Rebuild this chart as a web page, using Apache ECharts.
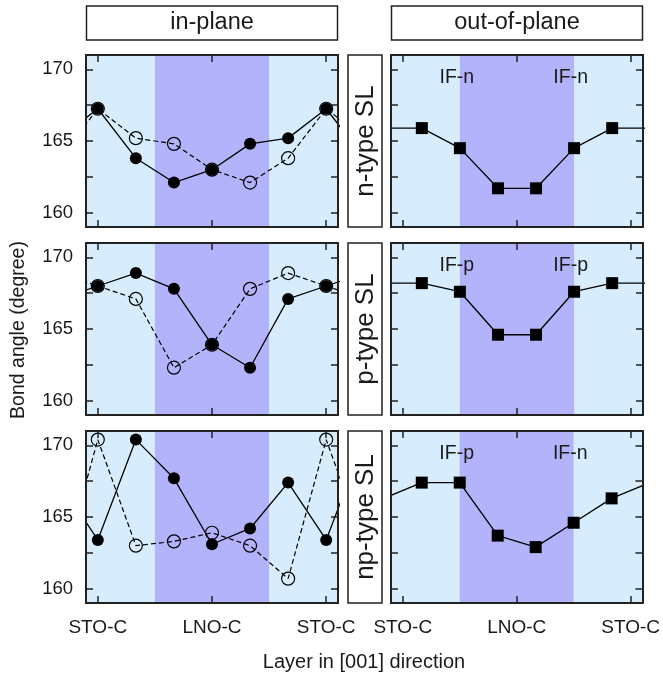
<!DOCTYPE html>
<html>
<head>
<meta charset="utf-8">
<script src="https://cdn.jsdelivr.net/npm/echarts@6/dist/echarts.min.js"></script>
<style>
html,body{margin:0;padding:0;background:#fff;}
#chart{width:663px;height:674px;}
</style>
</head>
<body>
<div id="chart"></div>
<script>
// ---- data ----
const xTickPos = [0, 3, 6];
const xTickLabels = ['STO-C', 'LNO-C', 'STO-C'];
const layerX = [0, 1, 2, 3, 4, 5, 6];
const octaX = [0.5, 1.5, 2.5, 3.5, 4.5, 5.5];
const lnoRegion = [1.5, 4.5];
const yTicks = [160, 162.5, 165, 167.5, 170];
const yLabels = [160, 165, 170];

const nFilled  = [167.25, 163.8, 162.1, 163.0, 164.8, 165.2, 167.25];
const nOpen    = [167.25, 165.2, 164.8, 163.0, 162.1, 163.8, 167.25];
const pFilled  = [168.0, 168.9, 167.8, 163.9, 162.3, 167.1, 168.0];
const pOpen    = [168.0, 167.1, 162.3, 163.9, 167.8, 168.9, 168.0];
const npFilled = [163.4, 170.4, 167.7, 163.1, 164.2, 167.4, 163.4];
const npOpen   = [170.4, 163.0, 163.3, 163.9, 163.0, 160.7, 170.4];

const nOut  = [165.9, 164.5, 161.7, 161.7, 164.5, 165.9];
const pOut  = [168.2, 167.6, 164.6, 164.6, 167.6, 168.2];
const npOut = [167.4, 167.4, 163.7, 162.9, 164.6, 166.3];

const ifLabels = [['IF-n', 'IF-n'], ['IF-p', 'IF-p'], ['IF-p', 'IF-n']];
const ifLabelX = [1.42, 4.41];
const ifLabelY = 169.45;
const rowNames = ['n-type SL', 'p-type SL', 'np-type SL'];
const colNames = ['in-plane', 'out-of-plane'];
const yAxisName = 'Bond angle (degree)';
const xAxisName = 'Layer in [001] direction';

const inPlane = [[nFilled, nOpen], [pFilled, pOpen], [npFilled, npOpen]];
const outPlane = [nOut, pOut, npOut];

// ---- layout ----
const FONT = '"Liberation Sans", Arial, sans-serif';
const TXT = '#1a1a1a';
const gridTops = [55, 243, 431];
const gridH = 172;
const colLefts = [86, 391];
const gridW = 252;
const XMIN = -0.31, XMAX = 6.31, YMIN = 159, YMAX = 171;
const LIGHT = '#d7edfd', PURPLE = '#b3b3fb';

// periodic continuation of the superlattice beyond the window
function layerData(vals) {
  const d = [[layerX[0] - 1, vals[5]]];
  vals.forEach((v, i) => d.push([layerX[i], v]));
  d.push([layerX[6] + 1, vals[1]]);
  return d;
}
function octaData(vals) {
  const d = [[octaX[0] - 1, vals[5]]];
  vals.forEach((v, i) => d.push([octaX[i], v]));
  d.push([octaX[5] + 1, vals[0]]);
  return d;
}

const grid = [], xAxis = [], yAxis = [], series = [];
const axisLineStyle = { color: '#222', width: 2 };
const tickStyle = { color: '#222', width: 1.5 };

for (let r = 0; r < 3; r++) {
  for (let c = 0; c < 2; c++) {
    const g = grid.length;
    grid.push({ left: colLefts[c], top: gridTops[r], width: gridW, height: gridH,
      show: true, backgroundColor: LIGHT, borderWidth: 0 });
    const bottomRow = r === 2;
    xAxis.push({ type: 'value', gridIndex: g, min: XMIN, max: XMAX, position: 'bottom', z: 10,
      axisLine: { show: true, onZero: false, lineStyle: axisLineStyle },
      axisTick: { show: true, inside: true, length: 7, customValues: xTickPos, lineStyle: tickStyle },
      axisLabel: { show: bottomRow, customValues: xTickPos, margin: 15, fontFamily: FONT, fontSize: 19, color: TXT,
        formatter: v => xTickLabels[xTickPos.indexOf(v)] },
      splitLine: { show: false } });
    xAxis.push({ type: 'value', gridIndex: g, min: XMIN, max: XMAX, position: 'top', z: 10,
      axisLine: { show: true, onZero: false, lineStyle: axisLineStyle },
      axisTick: { show: true, inside: true, length: 7, customValues: xTickPos, lineStyle: tickStyle },
      axisLabel: { show: false }, splitLine: { show: false } });
    yAxis.push({ type: 'value', gridIndex: g, min: YMIN, max: YMAX, position: 'left', z: 10,
      axisLine: { show: true, onZero: false, lineStyle: axisLineStyle },
      axisTick: { show: true, inside: true, length: 7, customValues: yTicks, lineStyle: tickStyle },
      axisLabel: { show: c === 0, customValues: yLabels, margin: 13, fontFamily: FONT, fontSize: 18.5, color: TXT },
      splitLine: { show: false } });
    yAxis.push({ type: 'value', gridIndex: g, min: YMIN, max: YMAX, position: 'right', z: 10,
      axisLine: { show: true, onZero: false, lineStyle: axisLineStyle },
      axisTick: { show: true, inside: true, length: 7, customValues: yTicks, lineStyle: tickStyle },
      axisLabel: { show: false }, splitLine: { show: false } });

    const xi = 2 * g, yi = 2 * g;
    // LNO region shading
    series.push({ type: 'line', xAxisIndex: xi, yAxisIndex: yi, data: [], z: 1, silent: true,
      markArea: { silent: true, itemStyle: { color: PURPLE, opacity: 1 },
        data: [[{ xAxis: lnoRegion[0] }, { xAxis: lnoRegion[1] }]] } });

    if (c === 0) {
      const [filled, open] = inPlane[r];
      series.push({ type: 'line', xAxisIndex: xi, yAxisIndex: yi, data: layerData(open), z: 3,
        clip: true, silent: true, symbol: 'circle', symbolSize: 13, showAllSymbol: true,
        lineStyle: { color: '#000', width: 1.2, type: [5, 3] },
        itemStyle: { color: 'rgba(0,0,0,0)', borderColor: '#000', borderWidth: 1.2 } });
      series.push({ type: 'line', xAxisIndex: xi, yAxisIndex: yi, data: layerData(filled), z: 4,
        clip: true, silent: true, symbol: 'circle', symbolSize: 12, showAllSymbol: true,
        lineStyle: { color: '#000', width: 1.3 },
        itemStyle: { color: '#000' } });
    } else {
      series.push({ type: 'line', xAxisIndex: xi, yAxisIndex: yi, data: octaData(outPlane[r]), z: 4,
        clip: true, silent: true, symbol: 'rect', symbolSize: 12, showAllSymbol: true,
        lineStyle: { color: '#000', width: 1.3 },
        itemStyle: { color: '#000' },
        markPoint: { silent: true, symbol: 'circle', symbolSize: 0,
          label: { show: true, position: 'inside', formatter: p => p.name, fontFamily: FONT, fontSize: 19.5, color: TXT },
          data: ifLabels[r].map((t, k) => ({ name: t, coord: [ifLabelX[k], ifLabelY] })) } });
    }
  }
}

const graphic = [];
colNames.forEach((t, c) => {
  graphic.push({ type: 'rect', shape: { x: colLefts[c] + 0.5, y: 6, width: gridW - 1, height: 34 },
    style: { fill: '#fff', stroke: '#222', lineWidth: 1.5 } });
  graphic.push({ type: 'text', x: colLefts[c] + gridW / 2, y: 23,
    style: { text: t, font: '23.5px ' + FONT, fill: TXT, align: 'center', verticalAlign: 'middle' } });
});
rowNames.forEach((t, r) => {
  graphic.push({ type: 'rect', shape: { x: 348, y: gridTops[r], width: 34, height: gridH },
    style: { fill: '#fff', stroke: '#222', lineWidth: 1.5 } });
  graphic.push({ type: 'text', x: 366, y: gridTops[r] + gridH / 2, rotation: Math.PI / 2,
    style: { text: t, font: '26px ' + FONT, fill: TXT, align: 'center', verticalAlign: 'middle' } });
});
graphic.push({ type: 'text', x: 19, y: 330, rotation: Math.PI / 2,
  style: { text: yAxisName, font: '19.5px ' + FONT, fill: TXT, align: 'center', verticalAlign: 'middle' } });
graphic.push({ type: 'text', x: 364, y: 662,
  style: { text: xAxisName, font: '20px ' + FONT, fill: TXT, align: 'center', verticalAlign: 'middle' } });

const chart = echarts.init(document.getElementById('chart'), null, { renderer: 'canvas' });
chart.setOption({ animation: false, backgroundColor: '#fff', grid, xAxis, yAxis, series, graphic });
</script>
</body>
</html>
